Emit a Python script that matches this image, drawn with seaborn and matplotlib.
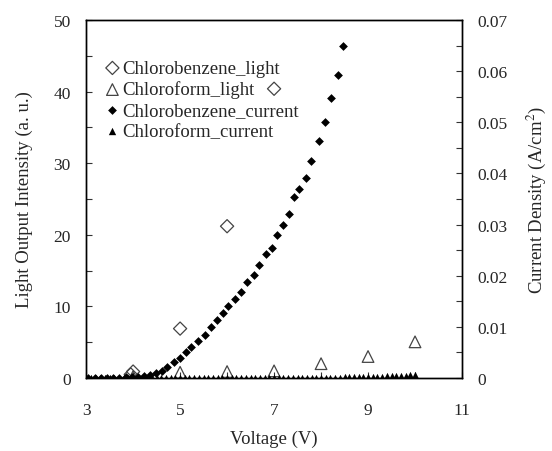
import numpy as np
import matplotlib
matplotlib.use("Agg")
import matplotlib.pyplot as plt
import seaborn as sns
from matplotlib.ticker import FixedLocator, MultipleLocator

# Light output (left axis, a.u.)
cb_light_v = [3.95, 4.0, 5.0, 6.0, 7.0]
cb_light = [0.5, 0.9, 6.9, 21.2, 40.4]
cf_light_v = [4.0, 5.0, 6.0, 7.0, 8.0, 9.0, 10.0]
cf_light = [0.2, 0.8, 0.9, 1.0, 2.0, 3.0, 5.05]

# Current density (right axis, A/cm2)
cb_curr_v = [3.05, 3.18, 3.31, 3.44, 3.57, 3.70, 3.84, 3.97, 4.10, 4.23, 4.36,
             4.49, 4.61, 4.73, 4.87, 5.00, 5.13, 5.24, 5.38, 5.53, 5.65, 5.79,
             5.91, 6.03, 6.16, 6.30, 6.43, 6.57, 6.68, 6.83, 6.95, 7.06, 7.19,
             7.32, 7.43, 7.53, 7.67, 7.79, 7.96, 8.09, 8.22, 8.35, 8.46]
cb_curr = [0.0, 0.0, 0.0, 0.0, 0.0, 0.0, 0.0001, 0.0001, 0.0002, 0.0003, 0.0005,
           0.0009, 0.0014, 0.0022, 0.0031, 0.0039, 0.0050, 0.0061, 0.0072, 0.0085,
           0.0100, 0.0113, 0.0128, 0.0140, 0.0155, 0.0168, 0.0188, 0.0201, 0.0220,
           0.0242, 0.0254, 0.0280, 0.0300, 0.0321, 0.0354, 0.0369, 0.0391, 0.0425,
           0.0463, 0.0501, 0.0547, 0.0592, 0.0649]
cf_curr_v = [3.0, 3.1, 3.2, 3.3, 3.4, 3.5, 3.6, 3.7, 3.8, 3.9, 4.0, 4.1, 4.2, 4.3,
             4.4, 4.5, 4.6, 4.7, 4.8, 4.9, 5.0, 5.1, 5.2, 5.3, 5.4, 5.5, 5.6, 5.7,
             5.8, 5.9, 6.0, 6.1, 6.2, 6.3, 6.4, 6.5, 6.6, 6.7, 6.8, 6.9, 7.0, 7.1,
             7.2, 7.3, 7.4, 7.5, 7.6, 7.7, 7.8, 7.9, 8.0, 8.1, 8.2, 8.3, 8.4, 8.5,
             8.6, 8.7, 8.8, 8.9, 9.0, 9.1, 9.2, 9.3, 9.4, 9.5, 9.6, 9.7, 9.8, 9.9, 10.0]
cf_curr = [0.0, 0.0, 0.0, 0.0, 0.0, 0.0, 0.0, 0.0, 0.0, 0.0, 0.0, 0.0, 0.0, 0.0,
           0.0, 0.0, 0.0, 0.0, 0.0, 0.0, 0.0, 0.0, 0.0, 0.0, 0.0, 0.0, 0.0, 0.0,
           0.0, 0.0, 0.0, 0.0, 0.0, 0.0, 0.0, 0.0, 0.0, 0.0, 0.0, 0.0, 0.0, 0.0,
           0.0, 0.0, 0.0, 0.0, 0.0, 0.0, 0.0, 0.0, 0.0, 0.0, 0.00005, 0.00005, 0.00005,
           0.0001, 0.0001, 0.0001, 0.0001, 0.00015, 0.00015, 0.0002, 0.0002, 0.00025,
           0.0003, 0.0003, 0.00035, 0.0004, 0.00045, 0.0005, 0.0006]

x_ticks = [3, 5, 7, 9, 11]
x_minor = [4, 6, 8, 10]
j_ticks = [0, 0.01, 0.02, 0.03, 0.04, 0.05, 0.06, 0.07]
j_labels = ['0', '0.01', '0.02', '0.03', '0.04', '0.05', '0.06', '0.07']

sns.set_style("white")
plt.rcParams['font.family'] = ['Liberation Serif', 'DejaVu Serif']
plt.rcParams['mathtext.fontset'] = 'stix'

fig = plt.figure(figsize=(5.52, 4.52), dpi=100)
ax = fig.add_axes([0.156, 0.1615, 0.681, 0.792])
ax2 = ax.twinx()

edge = '#444444'
sns.scatterplot(x=cb_light_v, y=cb_light, ax=ax, marker='D', s=45,
                facecolors='none', edgecolor=edge, linewidth=0.9,
                label='Chlorobenzene_light', zorder=3)
sns.scatterplot(x=cf_light_v, y=cf_light, ax=ax, marker='^', s=70,
                facecolors='none', edgecolor=edge, linewidth=0.9,
                label='Chloroform_light', zorder=3)
sns.scatterplot(x=cb_curr_v, y=cb_curr, ax=ax2, marker='D', s=20,
                color='black', edgecolor='black', linewidth=0,
                label='Chlorobenzene_current')
sns.scatterplot(x=cf_curr_v, y=cf_curr, ax=ax2, marker='^', s=28,
                color='black', edgecolor='black', linewidth=0,
                label='Chloroform_current')

ax.set_xlim(3, 11)
ax.set_ylim(0, 50)
ax2.set_ylim(0, 0.07)
ax.xaxis.set_major_locator(FixedLocator(x_ticks))
ax.xaxis.set_minor_locator(FixedLocator(x_minor))
ax.yaxis.set_major_locator(MultipleLocator(10))
ax.yaxis.set_minor_locator(MultipleLocator(5))
ax2.set_yticks(j_ticks)
ax2.set_yticklabels(j_labels)
ax2.yaxis.set_minor_locator(MultipleLocator(0.005))

for a in (ax, ax2):
    a.tick_params(which='major', direction='in', length=4, width=0.8,
                  labelsize=12.5, pad=11, color='#333333')
    a.tick_params(which='minor', direction='in', length=4, width=0.8,
                  color='#333333')
    for s in a.spines.values():
        s.set_color('black')
        s.set_linewidth(1.0)
ax.tick_params(axis='x', pad=17)
ax.tick_params(axis='y', left=True, which='both')
ax.tick_params(axis='x', bottom=True, which='both')
ax2.tick_params(axis='y', right=True, which='both')

ax.set_xlabel('Voltage (V)', fontsize=13.5, labelpad=9)
ax.set_ylabel('Light Output Intensity (a. u.)', fontsize=13.5, labelpad=15)
ax2.set_ylabel('Current Density (A/cm$^2$)', fontsize=13.5, labelpad=12)

h1, l1 = ax.get_legend_handles_labels()
h2, l2 = ax2.get_legend_handles_labels()
ax.get_legend().remove()
ax2.get_legend().remove()
ax2.legend(h1 + h2, l1 + l2, loc='upper left', bbox_to_anchor=(0.025, 0.91),
           frameon=False, fontsize=13.5, handletextpad=0.05, labelspacing=0.2,
           borderaxespad=0, handlelength=1.0)

fig.savefig('out.png', dpi=100)
